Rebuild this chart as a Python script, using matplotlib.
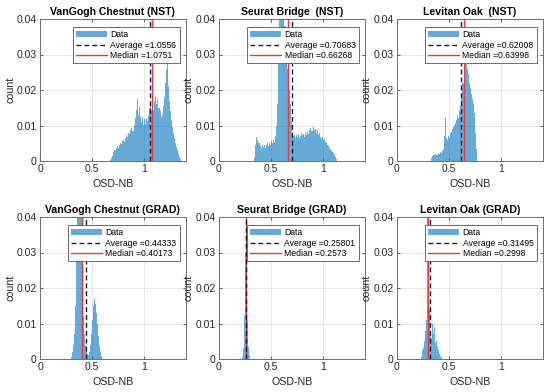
import numpy as np
import matplotlib.pyplot as plt
from matplotlib.patches import Patch
from matplotlib.lines import Line2D

plt.rcParams['font.family'] = ['Liberation Sans', 'DejaVu Sans']

titles = ['VanGogh Chestnut (NST)', 'Seurat Bridge  (NST)', 'Levitan Oak  (NST)',
          'VanGogh Chestnut (GRAD)', 'Seurat Bridge (GRAD)', 'Levitan Oak (GRAD)']
averages = [1.0556, 0.70683, 0.62008, 0.44333, 0.25801, 0.31495]
medians = [1.0751, 0.66268, 0.63998, 0.40173, 0.2573, 0.2998]

# histogram bins: first bin edge and bin width per panel, heights in units of 1e-3
bin_start = [0.66, 0.34, 0.33, 0.30, 0.225, 0.235]
bin_width = [0.01, 0.01, 0.01, 0.01, 0.005, 0.005]

vg_nst = [0.1, 0.3, 0.8, 1.5, 2.5, 3.2, 3.0, 3.8, 4.2, 3.6,
          4.5, 5.2, 4.8, 5.6, 6.0, 5.4, 6.5, 7.2, 6.8, 8.0,
          7.5, 8.6, 9.2, 8.4, 10.2, 12.0, 14.5, 17.5, 13.0, 15.2,
          12.4, 11.0, 12.5, 10.2, 11.8, 10.5, 12.0, 11.2, 13.0, 15.0,
          16.5, 14.0, 15.5, 14.5, 16.8, 18.0, 16.0, 17.2, 15.0, 14.0,
          12.5, 13.0, 15.5, 18.0, 22.0, 26.0, 30.0, 21.0, 17.0, 14.0,
          11.5, 9.5, 8.0, 6.5, 5.0, 4.0, 3.0, 2.0, 1.2, 0.5]
sb_nst = [1.0, 4.5, 6.8, 6.0, 5.0, 4.2, 3.5, 4.4, 4.0, 4.6,
          3.8, 4.5, 5.0, 4.2, 5.2, 4.6, 5.5, 5.0, 6.0, 5.4,
          7.0, 10.0, 16.0, 28.0, 45.0, 50.0, 48.0, 52.0, 46.0, 38.0,
          30.0, 26.0, 22.0, 20.0, 16.0, 11.0, 8.0, 7.0, 7.4, 6.5,
          7.2, 6.8, 7.5, 6.6, 7.0, 7.8, 7.2, 7.6, 6.8, 8.0,
          7.4, 8.2, 7.6, 8.8, 9.2, 8.4, 9.6, 8.8, 9.0, 8.0,
          8.6, 7.2, 7.8, 6.8, 6.2, 6.8, 5.8, 6.2, 5.4, 5.0,
          4.6, 4.2, 3.8, 3.2, 3.0, 2.6, 2.2, 1.8, 1.2, 0.5]
lo_nst = [0.8, 1.5, 1.8, 1.6, 2.0, 1.8, 2.2, 2.0, 2.5, 2.3,
          2.8, 3.5, 7.0, 12.0, 6.5, 6.0, 7.0, 6.5, 7.8, 8.2,
          9.0, 9.5, 10.2, 10.8, 11.5, 13.0, 12.2, 14.0, 15.5, 18.0,
          22.0, 26.0, 30.0, 27.5, 26.0, 24.5, 22.0, 20.5, 19.0, 17.5,
          16.0, 13.5, 8.0, 3.5]
vg_grad = [0.5, 2.0, 4.0, 7.0, 15.0, 30.0, 45.0, 55.0, 60.0, 50.0,
           30.0, 12.0, 7.0, 4.0, 2.5, 1.5, 1.0, 2.0, 4.0, 7.0,
           11.0, 15.0, 17.0, 15.5, 13.0, 10.0, 6.5, 4.0, 2.0, 0.8]
sb_grad = [0.5, 1.5, 3.0, 6.0, 12.0, 30.0, 60.0, 55.0, 25.0, 11.0,
           6.0, 3.5, 2.0, 1.0, 0.5]
lo_grad = [0.5, 1.5, 2.5, 3.0, 4.0, 5.0, 6.5, 8.0, 9.0, 11.0,
           20.0, 45.0, 60.0, 55.0, 40.0, 14.0, 9.0, 7.0, 9.5, 6.0,
           5.0, 10.0, 12.0, 7.0, 5.5, 9.0, 6.0, 4.5, 7.5, 5.0,
           3.5, 4.0, 2.5, 2.0, 1.5, 1.2, 0.8, 0.5, 0.3]
hists = [vg_nst, sb_nst, lo_nst, vg_grad, sb_grad, lo_grad]

hist_color = (0.0, 0.447, 0.741)
red = '#e8383b'
col_left = [40, 219, 397]
row_top = [19, 217]

fig = plt.figure(figsize=(5.5, 3.92), dpi=100)
for i in range(6):
    r, c = divmod(i, 3)
    ax = fig.add_axes([col_left[c] / 550, 1 - (row_top[r] + 142) / 392,
                       145.5 / 550, 142 / 392])
    h = np.array(hists[i]) / 1000
    edges = bin_start[i] + bin_width[i] * np.arange(len(h) + 1)
    ax.stairs(h, edges, fill=True, color=hist_color, alpha=0.6, lw=0, zorder=2)
    ax.axvline(medians[i], color=red, lw=1.0, zorder=3)
    ax.axvline(averages[i], color='#1a1a2e', lw=1.0, ls=(0, (3.5, 2.2)), zorder=4)

    ax.set_xlim(0, 1.4)
    ax.set_ylim(0, 0.04)
    ax.set_xticks([0, 0.5, 1])
    ax.set_xticklabels(['0', '0.5', '1'])
    ax.set_yticks([0, 0.01, 0.02, 0.03, 0.04])
    ax.set_yticklabels(['0', '0.01', '0.02', '0.03', '0.04'])
    ax.grid(True, color='#dcdcdc', lw=0.5, zorder=0)
    ax.set_axisbelow(True)
    ax.tick_params(direction='in', length=2, width=0.5, labelsize=7.5,
                   colors='#262626', top=True, right=True, pad=2.5)
    for s in ax.spines.values():
        s.set_color('#6e6e6e')
        s.set_linewidth(0.7)
    ax.set_title(titles[i], fontsize=7.6, fontweight='bold', pad=3)
    ax.set_xlabel('OSD-NB', fontsize=7.7, color='#262626', labelpad=3)
    ax.set_ylabel('count', fontsize=7.7, color='#262626')
    ax.yaxis.set_label_coords(-25 / 145.5, 0.5)

    handles = [Patch(facecolor=hist_color, alpha=0.6, lw=0),
               Line2D([], [], color='#1a1a2e', lw=1.0, ls=(0, (3.5, 2.2))),
               Line2D([], [], color=red, lw=1.0)]
    labels = ['Data', 'Average =' + str(averages[i]), 'Median =' + str(medians[i])]
    leg = ax.legend(handles, labels, loc='upper right',
                    bbox_to_anchor=(1 - 6 / 145.5, 1 - 8 / 142), borderaxespad=0,
                    fontsize=6.2, handlelength=3.6, handletextpad=0.4,
                    labelspacing=0.2, borderpad=0.35, fancybox=False,
                    framealpha=1, edgecolor='#555555')
    leg.get_frame().set_linewidth(0.6)
    leg.set_zorder(10)

fig.savefig('out.png', dpi=100)
